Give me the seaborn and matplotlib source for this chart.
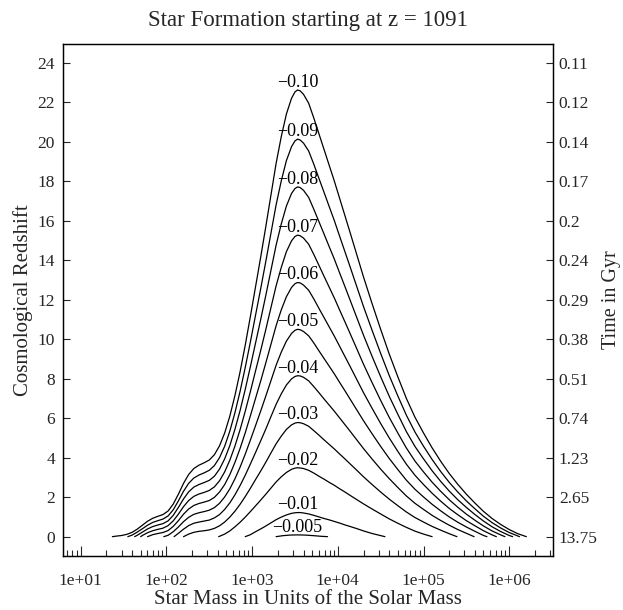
import numpy as np
import pandas as pd
import matplotlib
matplotlib.use("Agg")
import matplotlib.pyplot as plt
import seaborn as sns
from matplotlib.ticker import FuncFormatter, LogLocator, NullFormatter

# ---- data ----
levels = ["-0.10", "-0.09", "-0.08", "-0.07", "-0.06", "-0.05",
          "-0.04", "-0.03", "-0.02", "-0.01", "-0.005"]

# log10(star mass) and redshift along each contour line
c010_logm = [1.37,1.42,1.48,1.54,1.60,1.66,1.72,1.78,1.84,1.90,1.96,2.02,2.08,2.14,2.20,2.26,2.32,2.38,2.44,2.50,2.56,2.62,2.68,2.74,2.80,2.86,2.92,2.98,3.04,3.10,3.16,3.22,3.28,3.34,3.40,3.46,3.50,3.53,3.56,3.60,3.66,3.72,3.78,3.84,3.90,3.96,4.02,4.08,4.14,4.22,4.30,4.40,4.50,4.60,4.70,4.80,4.90,5.00,5.10,5.20,5.30,5.40,5.50,5.60,5.70,5.80,5.90,6.00,6.10,6.20]
c010_z    = [0.00,0.03,0.06,0.12,0.22,0.38,0.58,0.78,0.93,1.03,1.12,1.30,1.65,2.15,2.70,3.15,3.45,3.62,3.74,3.88,4.15,4.60,5.25,6.10,7.15,8.35,9.70,11.15,12.65,14.15,15.70,17.30,18.90,20.25,21.40,22.20,22.52,22.62,22.58,22.40,21.95,21.20,20.40,19.60,18.80,18.00,17.15,16.30,15.45,14.30,13.15,11.80,10.50,9.25,8.10,7.00,6.05,5.25,4.50,3.82,3.20,2.65,2.15,1.70,1.28,0.92,0.62,0.36,0.15,0.00]

c009_logm = [1.55,1.60,1.66,1.72,1.78,1.84,1.90,1.96,2.02,2.08,2.14,2.20,2.26,2.32,2.38,2.44,2.50,2.56,2.62,2.68,2.74,2.80,2.86,2.92,2.98,3.04,3.10,3.16,3.22,3.28,3.34,3.40,3.46,3.50,3.53,3.56,3.60,3.66,3.72,3.78,3.84,3.90,3.96,4.02,4.08,4.14,4.22,4.30,4.40,4.50,4.60,4.70,4.80,4.90,5.00,5.10,5.20,5.30,5.40,5.50,5.60,5.70,5.80,5.90,6.00,6.12]
c009_z    = [0.00,0.08,0.23,0.40,0.58,0.72,0.81,0.89,1.05,1.36,1.81,2.30,2.70,2.97,3.12,3.23,3.36,3.60,4.00,4.58,5.34,6.28,7.36,8.57,9.86,11.21,12.55,13.94,15.37,16.80,18.01,19.04,19.75,20.04,20.13,20.09,19.93,19.53,18.86,18.14,17.43,16.71,16.00,15.23,14.47,13.71,12.68,11.65,10.45,9.28,8.16,7.13,6.15,5.30,4.58,3.91,3.30,2.75,2.26,1.81,1.41,1.03,0.71,0.44,0.21,0.00]

c008_logm = [1.63,1.66,1.72,1.78,1.84,1.90,1.96,2.02,2.08,2.14,2.20,2.26,2.32,2.38,2.44,2.50,2.56,2.62,2.68,2.74,2.80,2.86,2.92,2.98,3.04,3.10,3.16,3.22,3.28,3.34,3.40,3.46,3.50,3.53,3.56,3.60,3.66,3.72,3.78,3.84,3.90,3.96,4.02,4.08,4.14,4.22,4.30,4.40,4.50,4.60,4.70,4.80,4.90,5.00,5.10,5.20,5.30,5.40,5.50,5.60,5.70,5.80,5.90,6.00,6.04]
c008_z    = [0.00,0.07,0.23,0.39,0.51,0.59,0.66,0.80,1.08,1.48,1.91,2.27,2.51,2.64,2.74,2.85,3.06,3.42,3.94,4.61,5.44,6.39,7.46,8.61,9.80,10.99,12.22,13.49,14.76,15.83,16.74,17.38,17.63,17.71,17.68,17.54,17.18,16.58,15.95,15.32,14.68,14.05,13.37,12.70,12.02,11.11,10.20,9.13,8.10,7.11,6.20,5.32,4.57,3.94,3.34,2.80,2.31,1.87,1.48,1.12,0.79,0.50,0.26,0.06,0.00]

c007_logm = [1.70,1.72,1.78,1.84,1.90,1.96,2.02,2.08,2.14,2.20,2.26,2.32,2.38,2.44,2.50,2.56,2.62,2.68,2.74,2.80,2.86,2.92,2.98,3.04,3.10,3.16,3.22,3.28,3.34,3.40,3.46,3.50,3.53,3.56,3.60,3.66,3.72,3.78,3.84,3.90,3.96,4.02,4.08,4.14,4.22,4.30,4.40,4.50,4.60,4.70,4.80,4.90,5.00,5.10,5.20,5.30,5.40,5.50,5.60,5.70,5.80,5.90,5.95]
c007_z    = [0.00,0.06,0.20,0.30,0.37,0.43,0.56,0.80,1.14,1.52,1.83,2.04,2.16,2.24,2.34,2.52,2.83,3.28,3.87,4.59,5.42,6.35,7.35,8.39,9.42,10.49,11.60,12.70,13.63,14.43,14.98,15.20,15.27,15.24,15.12,14.81,14.29,13.74,13.18,12.63,12.08,11.49,10.91,10.32,9.53,8.73,7.80,6.90,6.04,5.25,4.49,3.83,3.28,2.76,2.30,1.87,1.49,1.14,0.83,0.54,0.29,0.09,0.00]

c006_logm = [1.78,1.84,1.90,1.96,2.02,2.08,2.14,2.20,2.26,2.32,2.38,2.44,2.50,2.56,2.62,2.68,2.74,2.80,2.86,2.92,2.98,3.04,3.10,3.16,3.22,3.28,3.34,3.40,3.46,3.50,3.53,3.56,3.60,3.66,3.72,3.78,3.84,3.90,3.96,4.02,4.08,4.14,4.22,4.30,4.40,4.50,4.60,4.70,4.80,4.90,5.00,5.10,5.20,5.30,5.40,5.50,5.60,5.70,5.80,5.85]
c006_z    = [0.00,0.10,0.16,0.21,0.31,0.52,0.81,1.14,1.40,1.58,1.68,1.75,1.83,1.99,2.26,2.64,3.14,3.76,4.47,5.26,6.12,7.00,7.88,8.80,9.74,10.68,11.48,12.15,12.62,12.81,12.87,12.85,12.74,12.48,12.04,11.56,11.09,10.62,10.15,9.65,9.15,8.65,7.97,7.29,6.50,5.73,5.00,4.32,3.67,3.11,2.64,2.20,1.80,1.43,1.11,0.81,0.55,0.30,0.09,0.00]

c005_logm = [1.97,2.02,2.08,2.14,2.20,2.26,2.32,2.38,2.44,2.50,2.56,2.62,2.68,2.74,2.80,2.86,2.92,2.98,3.04,3.10,3.16,3.22,3.28,3.34,3.40,3.46,3.50,3.53,3.56,3.60,3.66,3.72,3.78,3.84,3.90,3.96,4.02,4.08,4.14,4.22,4.30,4.40,4.50,4.60,4.70,4.80,4.90,5.00,5.10,5.20,5.30,5.40,5.50,5.60,5.70,5.74]
c005_z    = [0.00,0.07,0.25,0.49,0.76,0.98,1.13,1.21,1.27,1.34,1.47,1.69,2.01,2.42,2.93,3.52,4.18,4.89,5.62,6.36,7.12,7.90,8.68,9.34,9.90,10.29,10.45,10.50,10.48,10.39,10.17,9.81,9.41,9.02,8.63,8.24,7.82,7.41,6.99,6.43,5.87,5.21,4.57,3.96,3.40,2.86,2.40,2.01,1.64,1.31,1.00,0.73,0.49,0.27,0.06,0.00]

c004_logm = [2.09,2.14,2.20,2.26,2.32,2.38,2.44,2.50,2.56,2.62,2.68,2.74,2.80,2.86,2.92,2.98,3.04,3.10,3.16,3.22,3.28,3.34,3.40,3.46,3.50,3.53,3.56,3.60,3.66,3.72,3.78,3.84,3.90,3.96,4.02,4.08,4.14,4.22,4.30,4.40,4.50,4.60,4.70,4.80,4.90,5.00,5.10,5.20,5.30,5.40,5.50,5.59]
c004_z    = [0.00,0.17,0.38,0.56,0.68,0.74,0.79,0.84,0.95,1.12,1.38,1.71,2.12,2.59,3.11,3.68,4.26,4.85,5.45,6.08,6.70,7.23,7.68,7.99,8.11,8.15,8.14,8.07,7.89,7.60,7.29,6.97,6.66,6.35,6.02,5.69,5.36,4.91,4.46,3.93,3.42,2.94,2.49,2.06,1.69,1.38,1.08,0.82,0.58,0.36,0.17,0.00]

c003_logm = [2.20,2.26,2.32,2.38,2.44,2.50,2.56,2.62,2.68,2.74,2.80,2.86,2.92,2.98,3.04,3.10,3.16,3.22,3.28,3.34,3.40,3.46,3.50,3.53,3.56,3.60,3.66,3.72,3.78,3.84,3.90,3.96,4.02,4.08,4.14,4.22,4.30,4.40,4.50,4.60,4.70,4.80,4.90,5.00,5.10,5.20,5.30,5.39]
c003_z    = [0.00,0.13,0.22,0.27,0.30,0.34,0.42,0.55,0.74,0.99,1.29,1.64,2.03,2.45,2.89,3.32,3.77,4.24,4.70,5.09,5.43,5.66,5.75,5.78,5.77,5.72,5.59,5.37,5.14,4.90,4.67,4.44,4.19,3.95,3.70,3.37,3.03,2.64,2.26,1.90,1.57,1.25,0.97,0.74,0.52,0.33,0.15,0.00]

c002_logm = [2.61,2.68,2.74,2.80,2.86,2.92,2.98,3.04,3.10,3.16,3.22,3.28,3.34,3.40,3.46,3.50,3.53,3.56,3.60,3.66,3.72,3.78,3.84,3.90,3.96,4.02,4.08,4.14,4.22,4.30,4.40,4.50,4.60,4.70,4.80,4.90,5.00,5.10]
c002_z    = [0.00,0.13,0.29,0.50,0.73,0.99,1.27,1.56,1.85,2.15,2.46,2.77,3.03,3.25,3.41,3.47,3.49,3.48,3.45,3.36,3.22,3.06,2.91,2.75,2.60,2.43,2.27,2.10,1.88,1.66,1.40,1.15,0.90,0.68,0.47,0.28,0.13,0.00]

c001_logm = [2.92,2.98,3.04,3.10,3.16,3.22,3.28,3.34,3.40,3.46,3.50,3.53,3.56,3.60,3.66,3.72,3.78,3.84,3.90,3.96,4.02,4.08,4.14,4.22,4.30,4.40,4.55]
c001_z    = [0.00,0.10,0.25,0.39,0.54,0.70,0.86,0.99,1.10,1.18,1.21,1.22,1.22,1.20,1.15,1.08,1.00,0.92,0.85,0.77,0.69,0.60,0.52,0.41,0.29,0.16,0.00]

c0005_logm = [3.28,3.36,3.44,3.53,3.62,3.72,3.80,3.88]
c0005_z    = [0.00,0.05,0.08,0.09,0.08,0.05,0.02,0.00]

curves_logm = [c010_logm, c009_logm, c008_logm, c007_logm, c006_logm, c005_logm,
               c004_logm, c003_logm, c002_logm, c001_logm, c0005_logm]
curves_z = [c010_z, c009_z, c008_z, c007_z, c006_z, c005_z,
            c004_z, c003_z, c002_z, c001_z, c0005_z]

z_ticks = [0, 2, 4, 6, 8, 10, 12, 14, 16, 18, 20, 22, 24]
time_labels = ["13.75", "2.65", "1.23", "0.74", "0.51", "0.38", "0.29",
               "0.24", "0.2", "0.17", "0.14", "0.12", "0.11"]
mass_ticks = [1e1, 1e2, 1e3, 1e4, 1e5, 1e6]

rows = []
for lev, lm, zz in zip(levels, curves_logm, curves_z):
    for i, (a, b) in enumerate(zip(lm, zz)):
        rows.append({"level": lev, "order": i, "mass": 10 ** a, "z": b})
df = pd.DataFrame(rows)

# ---- plot ----
sns.set_theme(style="white")
plt.rcParams["font.family"] = ["Liberation Serif", "DejaVu Serif"]

fig = plt.figure(figsize=(6.23, 6.10), dpi=100)
ax = fig.add_axes([0.1006, 0.0885, 0.7864, 0.8394])

sns.lineplot(data=df, x="mass", y="z", hue="level", units="level",
             estimator=None, sort=False, palette=["black"] * len(levels),
             linewidth=0.9, legend=False, ax=ax)

ax.set_xscale("log")
ax.set_xlim(10 ** 0.79, 10 ** 6.506)
ax.set_ylim(-0.98, 24.95)

for lev, lm, zz in zip(levels, curves_logm, curves_z):
    k = int(np.argmax(zz))
    ax.annotate(lev.replace("-", "\u2212"), xy=(10 ** lm[k], zz[k]),
                xytext=(0, 5.5), textcoords="offset points",
                ha="center", va="center", fontsize=13, color="black")

ax.set_xticks(mass_ticks)
ax.xaxis.set_minor_locator(LogLocator(base=10, subs=np.arange(2, 10), numticks=40))
ax.xaxis.set_minor_formatter(NullFormatter())
ax.xaxis.set_major_formatter(FuncFormatter(lambda v, p: f"{v:.0e}"))
ax.set_yticks(z_ticks)
ax.set_yticklabels([str(t) for t in z_ticks])

ax.tick_params(axis="x", which="major", direction="in", length=7, width=0.8,
               labelsize=12.5, pad=12, bottom=True, top=False)
ax.tick_params(axis="x", which="minor", direction="in", length=4.3, width=0.8,
               bottom=True, top=False)
ax.tick_params(axis="y", which="major", direction="in", length=5, width=0.8,
               labelsize=12.5, pad=5.5, left=True, right=False)

ax2 = ax.twinx()
ax2.set_ylim(ax.get_ylim())
ax2.set_yticks(z_ticks)
ax2.set_yticklabels(time_labels)
ax2.tick_params(axis="y", direction="in", length=5, width=0.8, labelsize=12.5, pad=4.5)

for a in (ax, ax2):
    for s in a.spines.values():
        s.set_visible(True)
        s.set_color("black")
        s.set_linewidth(0.9)

ax.set_xlabel("Star Mass in Units of the Solar Mass", fontsize=15, labelpad=1)
ax.set_ylabel("Cosmological Redshift", fontsize=15, labelpad=3)
ax2.set_ylabel("Time in Gyr", fontsize=14.5, labelpad=3)
ax.set_title("Star Formation starting at z = 1091", fontsize=16.5, pad=13)

fig.savefig("out.png", dpi=100)
